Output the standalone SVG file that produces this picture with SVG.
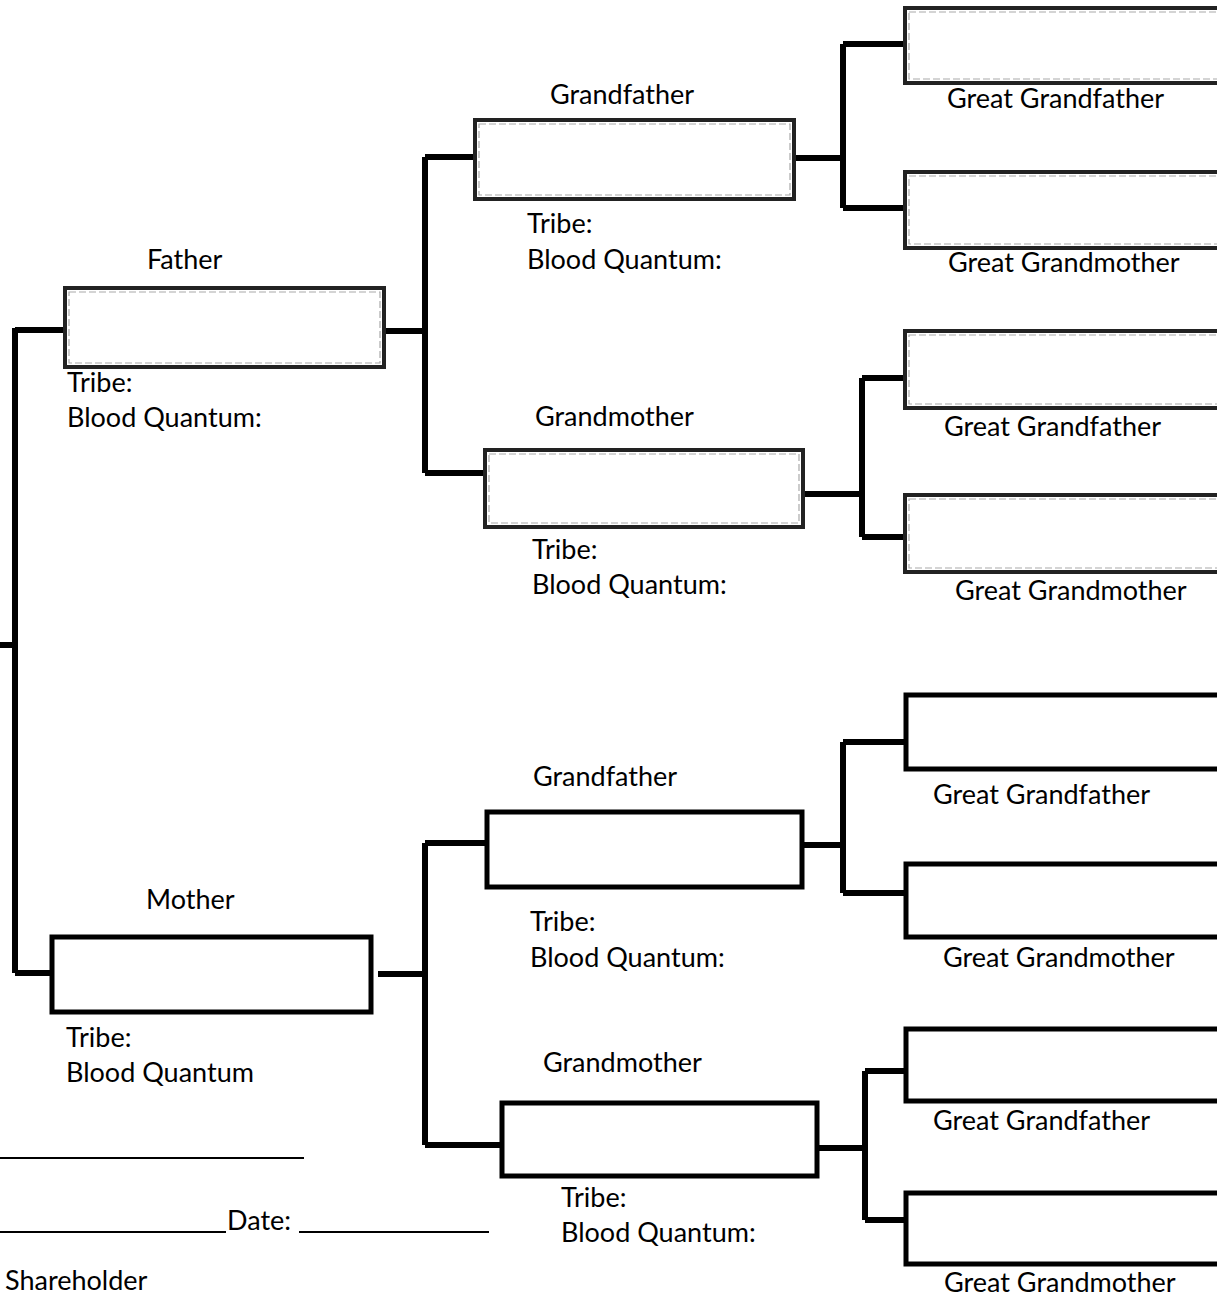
<svg xmlns="http://www.w3.org/2000/svg" width="1217" height="1297" viewBox="0 0 1217 1297">
<style>
text{font-family:Lato,"Open Sans","Liberation Sans",sans-serif;font-size:27px;fill:#000}
.g{fill:#fff;stroke:#222;stroke-width:4}
.gi{fill:none;stroke:#aaa;stroke-width:1.2;stroke-dasharray:7 3}
.b{fill:#fff;stroke:#000;stroke-width:5}
.c{fill:none;stroke:#000;stroke-width:6;stroke-linejoin:miter}
.s{fill:none;stroke:#000;stroke-width:1.8}
</style>
<g id="connectors">
<path class="c" d="M0 645H15M15 328V973M15 330H64M15 973H50"/>
<path class="c" d="M385 331H425M425 157V473M425 157H475M425 473H485"/>
<path class="c" d="M795 158H843M843 44V208M843 44H905M843 208H905"/>
<path class="c" d="M803 494H862M862 378V537M862 378H905M862 537H905"/>
<path class="c" d="M378 974H425M425 843V1145M425 843H485M425 1145H500"/>
<path class="c" d="M803 845H843M843 742V893M843 742H905M843 893H905"/>
<path class="c" d="M818 1148H865M865 1071V1220M865 1071H905M865 1220H905"/>
</g>
<g id="father"><rect class="g" x="65" y="288" width="319" height="79"/><rect class="gi" x="69" y="292" width="311" height="71"/>
<text x="147" y="269">Father</text><text x="67" y="392">Tribe:</text><text x="67" y="427">Blood Quantum:</text></g>
<g id="p-grandfather"><rect class="g" x="475" y="120" width="319" height="79"/><rect class="gi" x="479" y="124" width="311" height="71"/>
<text x="550" y="104">Grandfather</text><text x="527" y="233">Tribe:</text><text x="527" y="269">Blood Quantum:</text></g>
<g id="p-grandmother"><rect class="g" x="485" y="450" width="318" height="77"/><rect class="gi" x="489" y="454" width="310" height="69"/>
<text x="535" y="426">Grandmother</text><text x="532" y="559">Tribe:</text><text x="532" y="594">Blood Quantum:</text></g>
<g id="gg1"><rect class="g" x="905" y="8" width="320" height="75"/><rect class="gi" x="909" y="12" width="312" height="67"/><text x="947" y="108">Great Grandfather</text></g>
<g id="gg2"><rect class="g" x="905" y="172" width="320" height="76"/><rect class="gi" x="909" y="176" width="312" height="68"/><text x="948" y="272">Great Grandmother</text></g>
<g id="gg3"><rect class="g" x="905" y="331" width="320" height="77"/><rect class="gi" x="909" y="335" width="312" height="69"/><text x="944" y="436">Great Grandfather</text></g>
<g id="gg4"><rect class="g" x="905" y="495" width="320" height="77"/><rect class="gi" x="909" y="499" width="312" height="69"/><text x="955" y="600">Great Grandmother</text></g>
<g id="mother"><rect class="b" x="52" y="937" width="319" height="75"/>
<text x="146" y="909">Mother</text><text x="66" y="1047">Tribe:</text><text x="66" y="1082">Blood Quantum</text></g>
<g id="m-grandfather"><rect class="b" x="487" y="812" width="315" height="75"/>
<text x="533" y="786">Grandfather</text><text x="530" y="931">Tribe:</text><text x="530" y="967">Blood Quantum:</text></g>
<g id="m-grandmother"><rect class="b" x="502" y="1103" width="315" height="73"/>
<text x="543" y="1072">Grandmother</text><text x="561" y="1207">Tribe:</text><text x="561" y="1242">Blood Quantum:</text></g>
<g id="gg5"><rect class="b" x="906" y="695" width="320" height="74"/><text x="933" y="804">Great Grandfather</text></g>
<g id="gg6"><rect class="b" x="906" y="864" width="320" height="73"/><text x="943" y="967">Great Grandmother</text></g>
<g id="gg7"><rect class="b" x="906" y="1029" width="320" height="72"/><text x="933" y="1130">Great Grandfather</text></g>
<g id="gg8"><rect class="b" x="906" y="1193" width="320" height="71"/><text x="944" y="1292">Great Grandmother</text></g>
<g id="signature">
<path class="s" d="M0 1158H304M0 1232H226M299 1232H489"/>
<text x="227" y="1230">Date:</text>
<text x="5" y="1290">Shareholder</text>
</g>
</svg>
